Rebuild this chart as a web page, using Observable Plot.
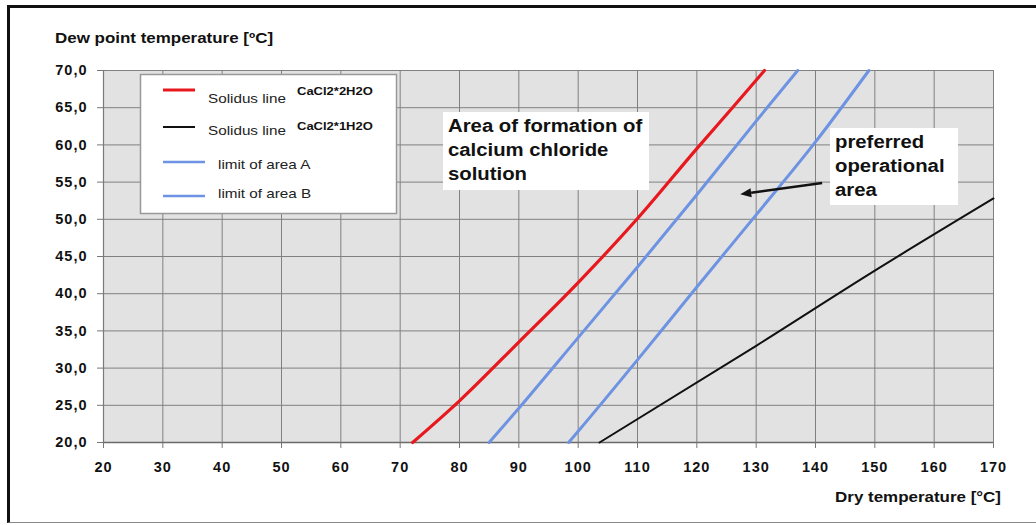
<!DOCTYPE html>
<html>
<head>
<meta charset="utf-8">
<script src="https://cdn.jsdelivr.net/npm/d3@7"></script>
<script src="https://cdn.jsdelivr.net/npm/@observablehq/plot@0.6"></script>
<style>
  html, body { margin: 0; padding: 0; background: #fff; overflow: hidden; }
  #wrap { position: relative; width: 1036px; height: 525px; }
  #wrap svg { position: absolute; left: 0; top: 0; }
  #border { position: absolute; left: 7px; top: 5px; width: 1040px; height: 514px;
            border-top: 3px solid #111; border-left: 3px solid #111; border-bottom: 1px solid #888; }
</style>
</head>
<body>
<div id="wrap"><div id="border"></div></div>
<script>
// ---- data ----
const xTicks = [20, 30, 40, 50, 60, 70, 80, 90, 100, 110, 120, 130, 140, 150, 160, 170];
const yTicks = [20, 25, 30, 35, 40, 45, 50, 55, 60, 65, 70];

// Solidus line CaCl2*2H2O (red)
const dryRed = [72.1, 80, 90, 100, 110, 120, 126, 131.4];
const dewRed = [20, 25.6, 33.5, 41.5, 50.1, 59.5, 65, 70];
// Solidus line CaCl2*1H2O (black)
const dryBlack = [103.6, 130, 150, 170];
const dewBlack = [20, 33.0, 43.1, 52.8];
// limit of area A (blue)
const dryA = [85, 90, 100, 110, 120, 130, 137];
const dewA = [20, 24.6, 34.1, 43.6, 53.3, 63.2, 70];
// limit of area B (blue)
const dryB = [98.4, 100, 110, 120, 130, 140, 149];
const dewB = [20, 21.5, 31.1, 40.9, 50.6, 60.4, 70];

const yTitle = "Dew point temperature [ºC]";
const xTitle = "Dry temperature [°C]";
const legendMain = ["Solidus line", "Solidus line", "limit of area A", "limit of area B"];
const legendSub = ["CaCl2*2H2O", "CaCl2*1H2O", "", ""];
const noteArea = ["Area of formation of", "calcium chloride", "solution"];
const notePreferred = ["preferred", "operational", "area"];
// arrow of the "preferred operational area" note, in data units [dry, dew]
const arrowTail = [141.2, 54.8];
const arrowHead = [127.4, 53.3];

// ---- build tables ----
const zip = (xs, ys) => xs.map((x, i) => ({x, y: ys[i]}));
const red = zip(dryRed, dewRed);
const black = zip(dryBlack, dewBlack);
const blueA = zip(dryA, dewA);
const blueB = zip(dryB, dewB);

const RED = "#e8191e", BLUE = "#6d93e2", BLACK = "#111111";
const FONT = "'Liberation Sans', Arial, sans-serif";

const chart = Plot.plot({
  width: 1036,
  height: 525,
  marginLeft: 103,
  marginRight: 43,
  marginTop: 70,
  marginBottom: 83,
  style: {fontFamily: FONT, fontSize: "14.5px", fontWeight: "bold", color: "#111",
          background: "transparent", letterSpacing: "1px"},
  x: {domain: [20, 170], ticks: xTicks, label: null},
  y: {domain: [20, 70], ticks: yTicks, label: null},
  marks: [
    Plot.frame({fill: "#e2e2e2", stroke: null}),
    Plot.gridX(xTicks, {stroke: "#808080", strokeOpacity: 1, strokeWidth: 1}),
    Plot.gridY(yTicks, {stroke: "#808080", strokeOpacity: 1, strokeWidth: 1}),
    Plot.ruleY([20], {stroke: "#6a6a6a", strokeWidth: 1.6}),
    Plot.ruleX([20], {stroke: "#7a7a7a", strokeWidth: 1.2}),
    Plot.axisX(xTicks, {tickSize: 6, tickPadding: 13, stroke: "#777", fill: "#111",
                        tickFormat: d => String(d)}),
    Plot.axisY(yTicks, {tickSize: 6, tickPadding: 10, stroke: "#777", fill: "#111",
                        tickFormat: d => d.toFixed(1).replace(".", ",")}),
    Plot.line(blueB, {x: "x", y: "y", stroke: BLUE, strokeWidth: 3, curve: "monotone-x"}),
    Plot.line(blueA, {x: "x", y: "y", stroke: BLUE, strokeWidth: 3, curve: "monotone-x"}),
    Plot.line(black, {x: "x", y: "y", stroke: BLACK, strokeWidth: 2, curve: "monotone-x"}),
    Plot.line(red, {x: "x", y: "y", stroke: RED, strokeWidth: 3.2, curve: "monotone-x"})
  ]
});
document.getElementById("wrap").appendChild(chart);

// ---- annotations, legend and titles ----
const svg = d3.select(chart);
const g = svg.append("g").attr("font-family", FONT).style("letter-spacing", "0px");
const SX = 1.13; // horizontal stretch of the reference lettering

function label(x, y, str, size, weight, anchor = "start", fill = "#111") {
  g.append("text")
    .attr("transform", `translate(${x},${y}) scale(${SX},1)`)
    .attr("font-size", size)
    .attr("font-weight", weight)
    .attr("text-anchor", anchor)
    .attr("fill", fill)
    .text(str);
}

// axis titles
label(55, 43, yTitle, 15, "bold");
label(1001, 502, xTitle, 15, "bold", "end");

// legend
g.append("rect").attr("x", 140.5).attr("y", 74.5).attr("width", 256).attr("height", 139)
  .attr("fill", "#fff").attr("stroke", "#999").attr("stroke-width", 1.5);
const legendRows = [
  {stroke: RED, w: 3, y: 90, x2: 195, tx: 208, ty: 103, sy: 95},
  {stroke: BLACK, w: 2, y: 127, x2: 195, tx: 208, ty: 135, sy: 130},
  {stroke: BLUE, w: 2.5, y: 162, x2: 205, tx: 218, ty: 169, sy: 0},
  {stroke: BLUE, w: 2.5, y: 196, x2: 205, tx: 218, ty: 198, sy: 0}
];
legendRows.forEach((r, i) => {
  g.append("line").attr("x1", 163).attr("x2", r.x2).attr("y1", r.y).attr("y2", r.y)
    .attr("stroke", r.stroke).attr("stroke-width", r.w);
  label(r.tx, r.ty, legendMain[i], 13.5, "normal", "start", "#222");
  if (legendSub[i]) label(297, r.sy, legendSub[i], 11.5, "bold", "start", "#111");
});

// note boxes
g.append("rect").attr("x", 443).attr("y", 112).attr("width", 206).attr("height", 78).attr("fill", "#fff");
noteArea.forEach((s, i) => label(448, 132 + i * 24, s, 18, "bold"));

g.append("rect").attr("x", 830).attr("y", 128).attr("width", 128).attr("height", 77).attr("fill", "#fff");
notePreferred.forEach((s, i) => label(835, 148 + i * 24, s, 18, "bold"));

// arrow
const xs = chart.scale("x"), ys = chart.scale("y");
const [tx, ty] = [xs.apply(arrowTail[0]), ys.apply(arrowTail[1])];
const [hx, hy] = [xs.apply(arrowHead[0]), ys.apply(arrowHead[1])];
const ang = Math.atan2(hy - ty, hx - tx);
const L = 11, W = 4.5;
const bx = hx - L * Math.cos(ang), by = hy - L * Math.sin(ang);
g.append("line").attr("x1", tx).attr("y1", ty).attr("x2", bx).attr("y2", by)
  .attr("stroke", "#111").attr("stroke-width", 2.5);
g.append("path")
  .attr("d", `M${hx},${hy}L${bx - W * Math.sin(ang)},${by + W * Math.cos(ang)}L${bx + W * Math.sin(ang)},${by - W * Math.cos(ang)}Z`)
  .attr("fill", "#111");
</script>
</body>
</html>
